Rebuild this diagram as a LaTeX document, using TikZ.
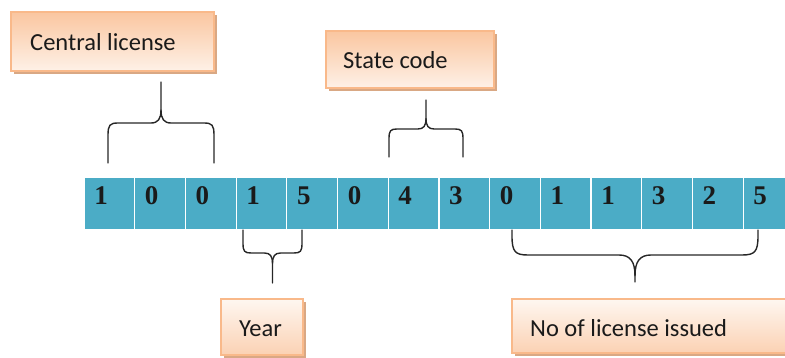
\documentclass[tikz,border=0pt]{standalone}
\usepackage{fontspec}
\setmainfont{Carlito}
\newfontfamily\digitfont{Liberation Serif}
\usetikzlibrary{shadows}

\definecolor{cellblue}{HTML}{4BACC6}
\definecolor{peachdark}{HTML}{FAC6A0}
\definecolor{peachlight}{HTML}{FEF1E7}
\definecolor{peachedge}{HTML}{F9B98A}
\definecolor{peachshadow}{HTML}{D9A884}
\definecolor{inktext}{HTML}{1A1A1A}

\tikzset{
  cell/.style={rectangle, fill=cellblue, draw=white, line width=1.2pt,
    minimum width=50.7pt, minimum height=53pt, inner sep=0pt},
  digit/.style={font=\digitfont\bfseries\fontsize{27}{27}\selectfont,
    text=inktext, anchor=base, inner sep=0pt},
  labelbox/.style={rectangle, draw=peachedge, line width=1.2pt, inner sep=0pt,
    drop shadow={shadow xshift=3pt, shadow yshift=-3pt, fill=peachshadow, opacity=1}},
  topbox/.style={labelbox, top color=peachdark, bottom color=peachlight},
  lowbox/.style={labelbox, top color=peachlight!60!white, bottom color=peachdark!80!white},
  boxtext/.style={font=\fontsize{24.5}{24.5}\selectfont, text=inktext, anchor=base west, inner sep=0pt},
  bracket/.style={draw=black!85, line width=1.4pt, line cap=round}
}

% curly bracket: #1 left x, #2 right x, #3 leg end y, #4 bar y, #5 tip y, #6 corner radius
\newcommand\curlybracket[6]{%
  \pgfmathsetmacro\bm{(#1+#2)/2}%
  \pgfmathsetmacro\bs{sign(#3-#4)}%
  \draw[bracket]
    (#1,#3) -- (#1,{#4+1.2*\bs*#6}) .. controls (#1,{#4+0.2*\bs*#6}) and ({#1+0.2*#6},#4) .. ({#1+#6},#4)
    -- ({\bm-#6},#4) .. controls ({\bm-0.3*#6},#4) and (\bm,{#4-0.4*\bs*#6}) .. (\bm,{#4-1.3*\bs*#6})
    -- (\bm,#5);
  \draw[bracket]
    (#2,#3) -- (#2,{#4+1.2*\bs*#6}) .. controls (#2,{#4+0.2*\bs*#6}) and ({#2-0.2*#6},#4) .. ({#2-#6},#4)
    -- ({\bm+#6},#4) .. controls ({\bm+0.3*#6},#4) and (\bm,{#4-0.4*\bs*#6}) .. (\bm,{#4-1.3*\bs*#6});
}

\begin{document}
\begin{tikzpicture}[x=1pt, y=-1pt]
\useasboundingbox (0,0) rectangle (785,358);
\clip (0,0) rectangle (785,358);

% the row of digits
\foreach \d [count=\i from 0] in {1,0,0,1,5,0,4,3,0,1,1,3,2,5} {
  \node[cell] (c\i) at ({84+\i*50.7+25.35},203.5) {};
  \node[digit] (d\i) at ({84+\i*50.7+17},205) {\d};
}

% label boxes
\node[topbox, minimum width=203pt, minimum height=59pt] (central) at (112.5,41.5) {};
\node[boxtext] (centralt) at (30,51) {Central license};

\node[topbox, minimum width=168pt, minimum height=57pt] (state) at (410,59.5) {};
\node[boxtext] (statet) at (343,69) {State code};

\node[lowbox, minimum width=82pt, minimum height=56pt] (year) at (262,327) {};
\node[boxtext] (yeart) at (239,337) {Year};

\node[lowbox, minimum width=290pt, minimum height=54pt] (issued) at (657,326) {};
\node[boxtext] (issuedt) at (530,337) {No of license issued};

% brackets grouping the digits
\curlybracket{108}{214}{163}{123}{82}{10}
\curlybracket{389}{463}{157}{129}{100}{8}
\curlybracket{243}{302}{230}{253}{283}{8}
\curlybracket{512}{758}{230}{255}{282}{16}
\end{tikzpicture}
\end{document}
